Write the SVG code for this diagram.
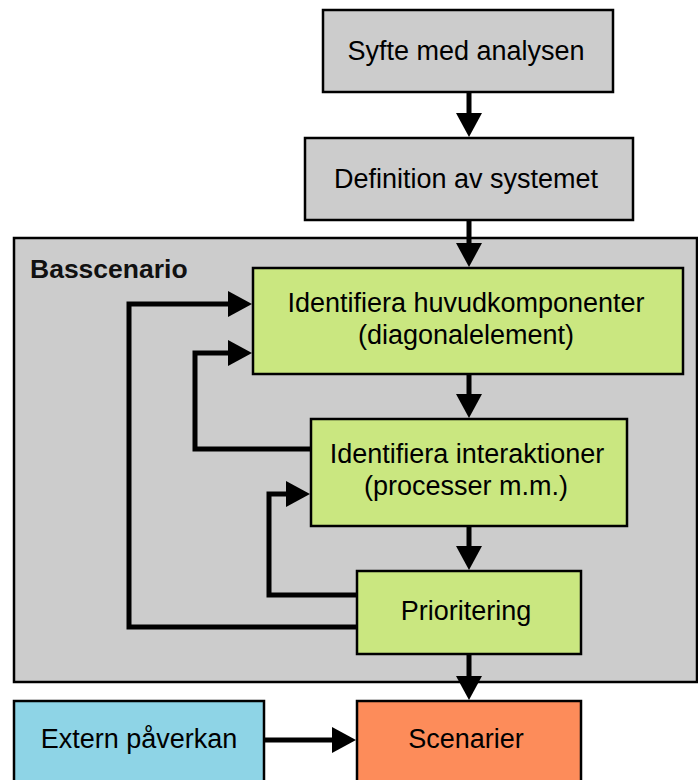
<svg xmlns="http://www.w3.org/2000/svg" width="698" height="780" viewBox="0 0 698 780">
<style>
.box{stroke:#000;stroke-width:2.5}
.gray{fill:#cccccc}
.green{fill:#cae780}
.blue{fill:#8ed4e6}
.orange{fill:#fd8c5a}
.t{font-family:"Liberation Sans",Arial,sans-serif;font-size:27px;fill:#000;text-anchor:middle}
.b{font-family:"Liberation Sans",Arial,sans-serif;font-size:26.5px;font-weight:bold;fill:#111}
.c{fill:none;stroke:#000;stroke-width:5;stroke-linejoin:miter}
</style>
<defs>
<marker id="ah" viewBox="0 0 24 26" refX="10" refY="13" markerWidth="24" markerHeight="26" markerUnits="userSpaceOnUse" orient="auto">
<path d="M0,0 L24,13 L0,26 Z" fill="#000"/>
</marker>
</defs>
<rect width="698" height="780" fill="#fff"/>
<g id="basscenario">
<rect class="box gray" x="14" y="238" width="683" height="444"/>
<text class="b" x="30" y="278">Basscenario</text>
</g>
<g id="syfte">
<rect class="box gray" x="323" y="10" width="290" height="82"/>
<text class="t" x="466" y="60">Syfte med analysen</text>
</g>
<g id="definition">
<rect class="box gray" x="305" y="138" width="328" height="82"/>
<text class="t" x="466" y="188">Definition av systemet</text>
</g>
<g id="huvudkomponenter">
<rect class="box green" x="253" y="268" width="430" height="106"/>
<text class="t" x="466" y="312">Identifiera huvudkomponenter</text>
<text class="t" x="466" y="344">(diagonalelement)</text>
</g>
<g id="interaktioner">
<rect class="box green" x="311" y="419" width="316" height="107"/>
<text class="t" x="467" y="463">Identifiera interaktioner</text>
<text class="t" x="466" y="495">(processer m.m.)</text>
</g>
<g id="prioritering">
<rect class="box green" x="357" y="571" width="224" height="83"/>
<text class="t" x="466" y="620">Prioritering</text>
</g>
<g id="extern">
<rect class="box blue" x="14" y="701" width="250" height="100"/>
<text class="t" x="139" y="748">Extern påverkan</text>
</g>
<g id="scenarier">
<rect class="box orange" x="357" y="701" width="224" height="100"/>
<text class="t" x="466" y="748">Scenarier</text>
</g>
<g id="connectors">
<path class="c" d="M469,92 V123" marker-end="url(#ah)"/>
<path class="c" d="M469,220 V253" marker-end="url(#ah)"/>
<path class="c" d="M469,374 V404" marker-end="url(#ah)"/>
<path class="c" d="M469,526 V556" marker-end="url(#ah)"/>
<path class="c" d="M469,654 V686" marker-end="url(#ah)"/>
<path class="c" d="M264,740 H342" marker-end="url(#ah)"/>
<path class="c" d="M357,627 H129 V304 H238" marker-end="url(#ah)"/>
<path class="c" d="M311,449 H195 V353 H238" marker-end="url(#ah)"/>
<path class="c" d="M357,595 H269 V494 H296" marker-end="url(#ah)"/>
</g>
</svg>
